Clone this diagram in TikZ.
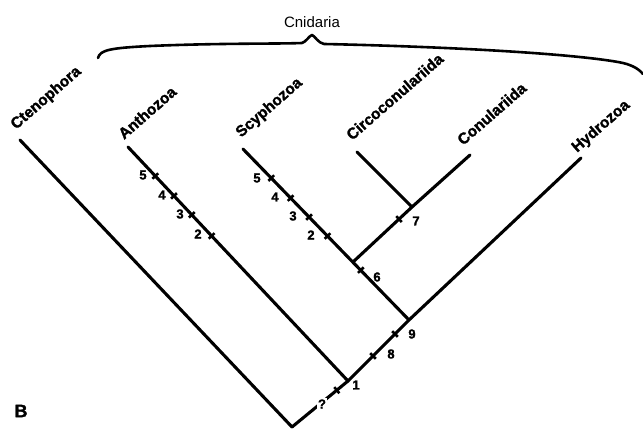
\documentclass[tikz,border=0pt]{standalone}
\usepackage{fontspec}
\setmainfont{Liberation Sans}[BoldFeatures={FakeBold=1.6}]
\usetikzlibrary{calc}
\begin{document}
\begin{tikzpicture}[x=1pt,y=-1pt,
  branch/.style={line width=3.1pt, line cap=round, line join=round},
  bracket/.style={line width=2.6pt, line cap=round, line join=round},
  taxon/.style={font=\bfseries\fontsize{15.5}{15.5}\selectfont, rotate=41, anchor=base west, inner sep=0pt},
  tickmark/.style={sloped, fill=black, draw=none, inner sep=0pt, minimum width=2.6pt, minimum height=8pt},
  num/.style={font=\bfseries\fontsize{13}{13}\selectfont, inner sep=0pt},
]
\useasboundingbox (0,0) rectangle (643,430);

% branch points and tips
\coordinate (root) at (292,427);
\coordinate (n1) at (348,381);
\coordinate (n9) at (409,320);
\coordinate (n6) at (353,262);
\coordinate (n7) at (412,207);
\coordinate (tCte) at (20,140);
\coordinate (tAnt) at (128,147);
\coordinate (tScy) at (243,149);
\coordinate (tCir) at (357,152);
\coordinate (tCon) at (470,155);
\coordinate (tHyd) at (581,158);

% taxon names
\node[taxon] (lCte) at (16,130) {Ctenophora};
\node[taxon] (lAnt) at (124,140) {Anthozoa};
\node[taxon] (lScy) at (241,138) {Scyphozoa};
\node[taxon] (lCir) at (352,141) {Circoconulariida};
\node[taxon] (lCon) at (463,146) {Conulariida};
\node[taxon] (lHyd) at (577,153) {Hydrozoa};

% Cnidaria bracket
\node[font=\fontsize{15}{15}\selectfont, inner sep=0pt] (lCni) at (312,22) {Cnidaria};
\draw[bracket] (98,58) .. controls (100,50) and (110,48) .. (150,46)
  .. controls (220,43) and (280,44) .. (302,43)
  .. controls (306,42) and (309,36) .. (312,35)
  .. controls (315,36) and (318,43) .. (324,44)
  .. controls (420,46) and (560,52) .. (618,62)
  .. controls (630,64) and (638,68) .. (643,74);

% branches
\draw[branch] (tCte) -- (root);
\draw[branch] (tAnt) -- (n1);
\draw[branch] (tScy) -- (n9);
\draw[branch] (tCir) -- (n7);
\draw[branch] (tCon) -- (n7) -- (n6);
\draw[branch] (tHyd) -- (n9) -- (n1);
\draw[branch] (n1) -- (root);

% character ticks
\path (tAnt) -- (n1)
  node[tickmark,pos=0.124] (aT5) {} node[tickmark,pos=0.209] (aT4) {}
  node[tickmark,pos=0.29] (aT3) {} node[tickmark,pos=0.38] (aT2) {};
\path (tScy) -- (n9)
  node[tickmark,pos=0.17] (sT5) {} node[tickmark,pos=0.287] (sT4) {}
  node[tickmark,pos=0.398] (sT3) {} node[tickmark,pos=0.509] (sT2) {};
\path (n6) -- (n7) node[tickmark,pos=0.78] (t7) {};
\path (n6) -- (n9) node[tickmark,pos=0.14] (t6) {};
\path (n9) -- (n1) node[tickmark,pos=0.23] (t9) {} node[tickmark,pos=0.59] (t8) {};
\path (n1) -- (root) node[tickmark,pos=0.2] (t1) {};

% character numbers
\node[num] (aN5) at (143,175) {5};
\node[num] (aN4) at (162,195) {4};
\node[num] (aN3) at (180,214) {3};
\node[num] (aN2) at (198,234) {2};
\node[num] (sN5) at (257,178) {5};
\node[num] (sN4) at (275,197) {4};
\node[num] (sN3) at (293,216) {3};
\node[num] (sN2) at (311,235) {2};
\node[num] (N7) at (416,221) {7};
\node[num] (N6) at (377,277) {6};
\node[num] (N9) at (412,334) {9};
\node[num] (N8) at (391,354) {8};
\node[num] (N1) at (356,385) {1};
\node[num, fill=white, inner sep=1.5pt] (Nq) at (322,404) {?};

% panel letter
\node[font=\bfseries\fontsize{18}{18}\selectfont, inner sep=0pt] (panel) at (21,411) {B};
\end{tikzpicture}
\end{document}
